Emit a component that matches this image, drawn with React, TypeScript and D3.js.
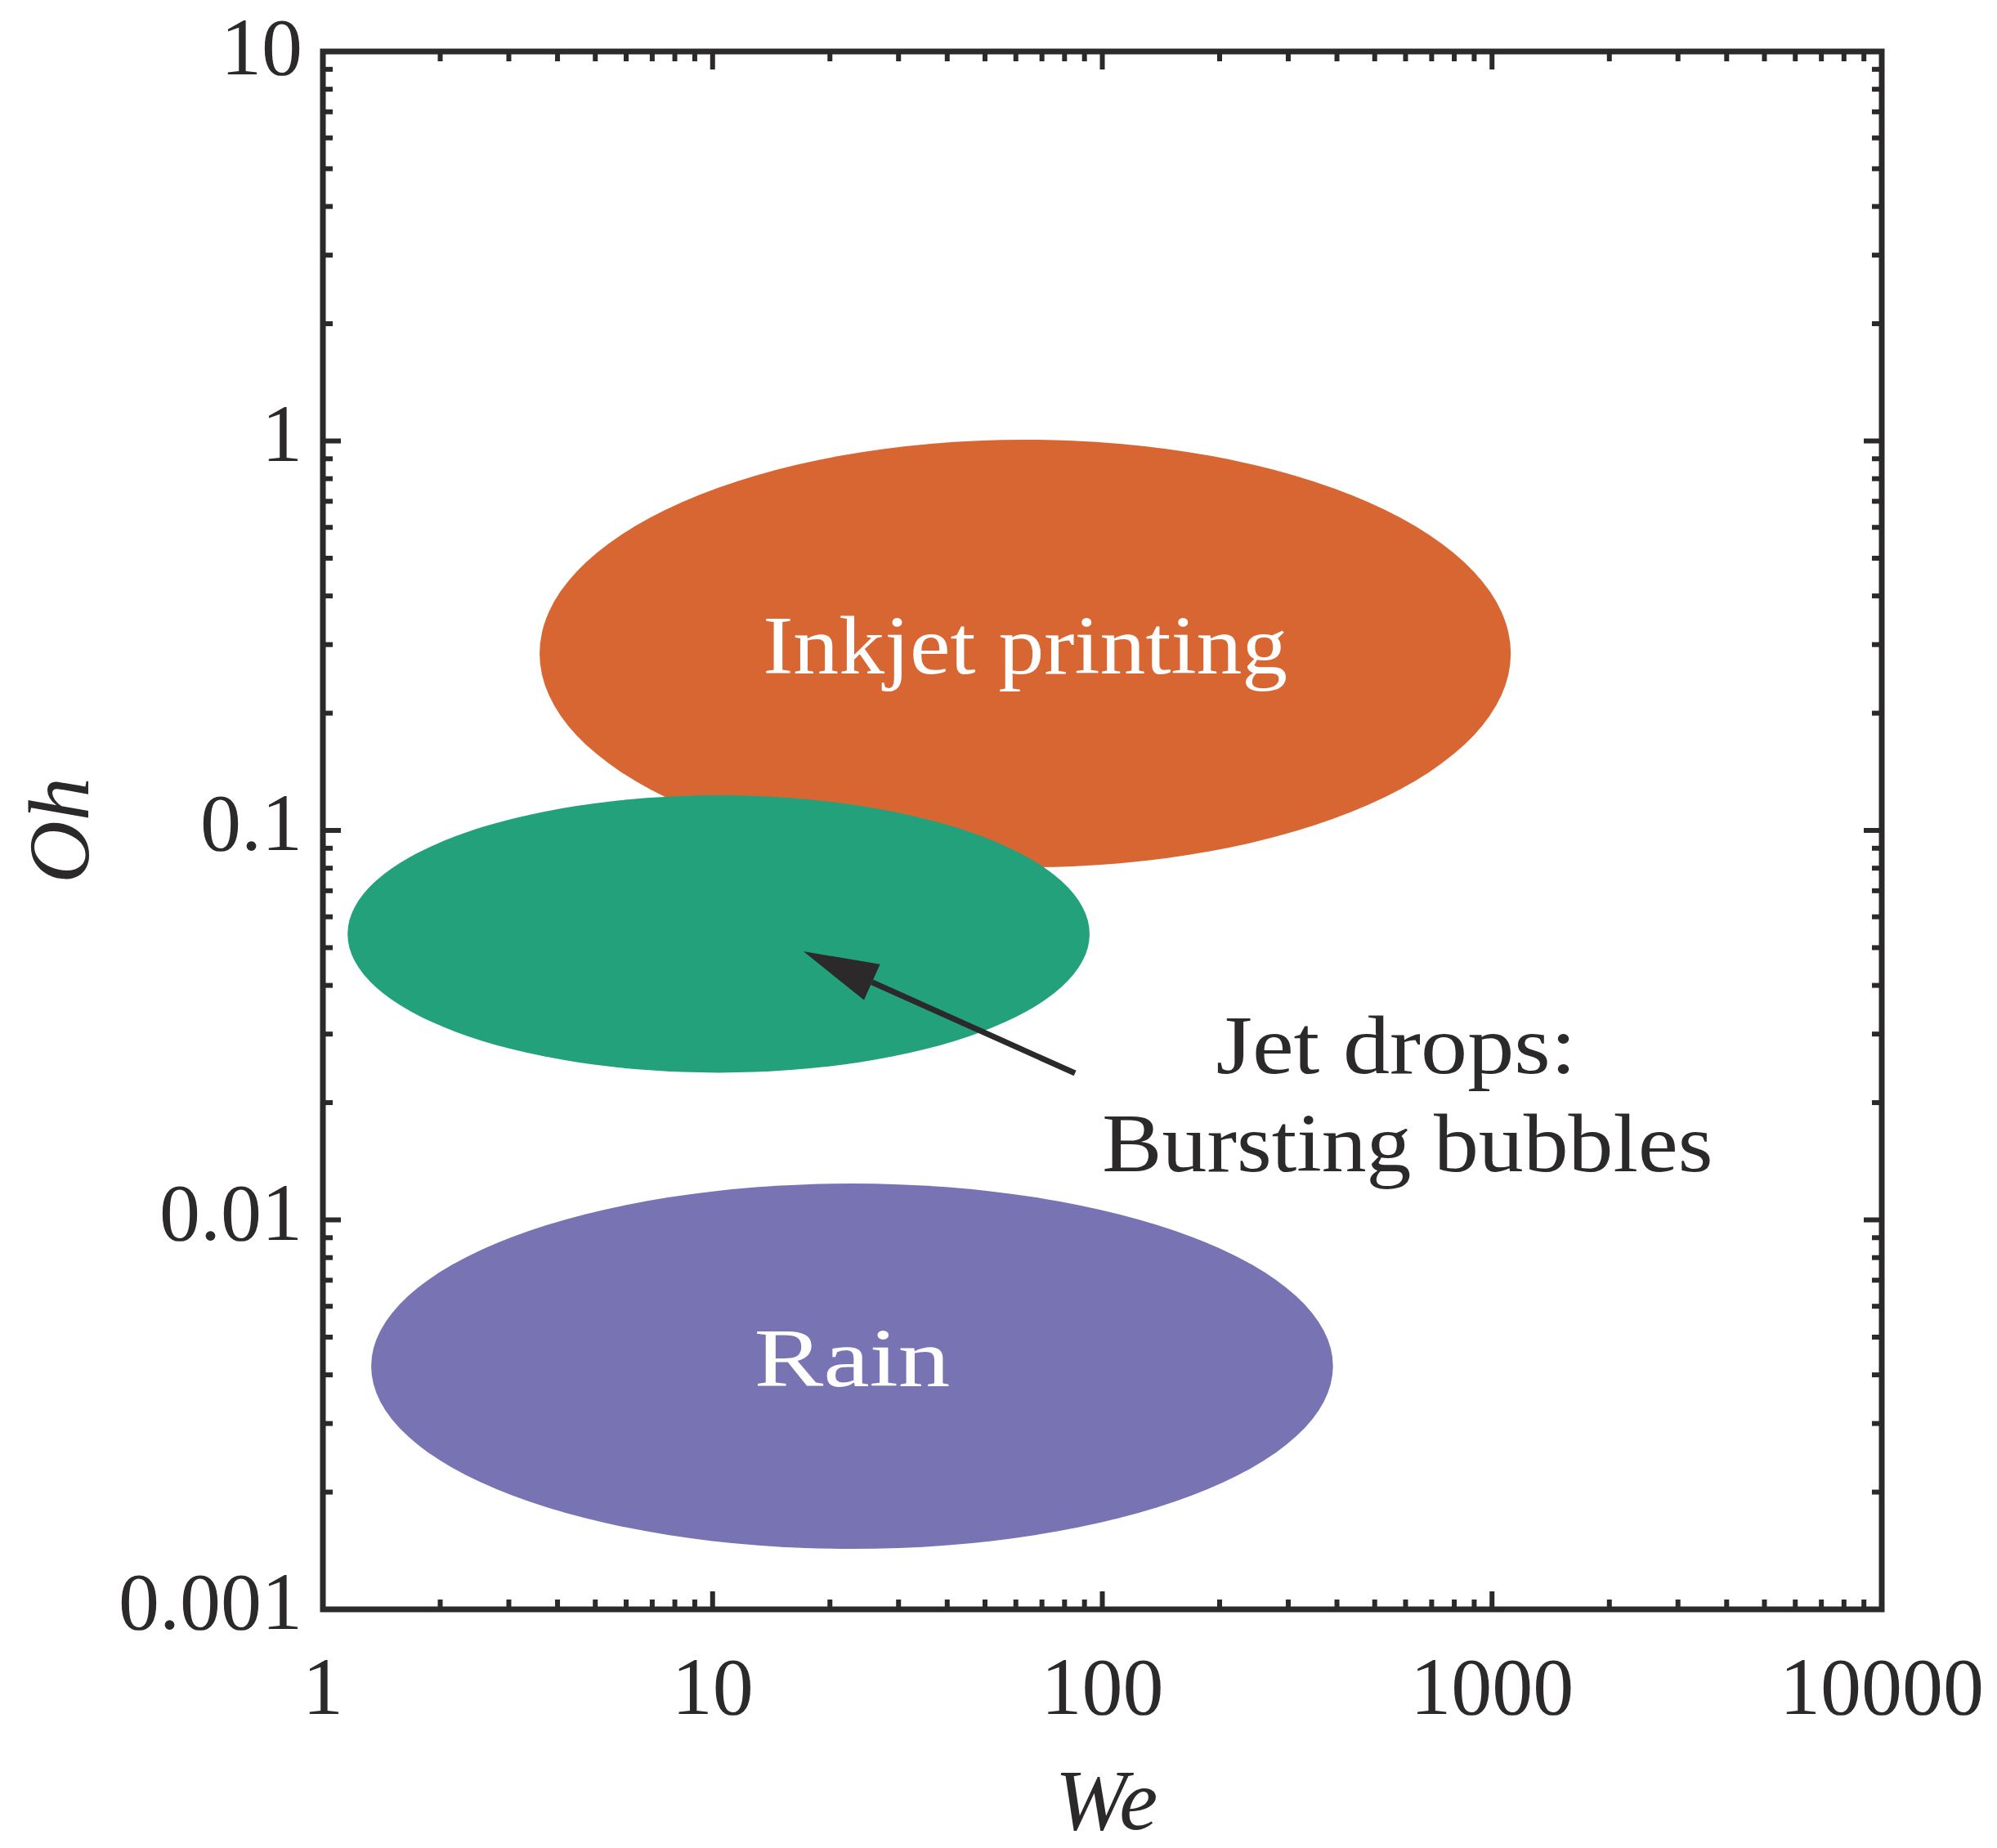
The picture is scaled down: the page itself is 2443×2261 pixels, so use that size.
import React from "react";
import * as d3 from "d3";

// ---- data ----
const regionNames = ["Inkjet printing", "Jet drops", "Rain"];
const regionCenterWe = [63.4, 10.36, 22.8];
const regionCenterOh = [0.2846, 0.0542, 0.00421];
const regionHalfSpanWe = [1.246, 0.952, 1.234]; // decades
const regionHalfSpanOh = [0.549, 0.356, 0.469]; // decades
const regionColors = ["#d86632", "#22a17b", "#7874b4"];
const regionInnerLabel = ["Inkjet printing", "", "Rain"];
const regionLabelWidths = [642, 0, 240];

const xTickValues = [1, 10, 100, 1000, 10000];
const xTickLabels = ["1", "10", "100", "1000", "10000"];
const yTickValues = [0.001, 0.01, 0.1, 1, 10];
const yTickLabels = ["0.001", "0.01", "0.1", "1", "10"];

const arrowTail = { we: 85.1, oh: 0.0238 };
const arrowTip = { we: 17.1, oh: 0.0489 };
const annotationLines = ["Jet drops:", "Bursting bubbles"];
const annotationWe = [567.5, 607];
const annotationOh = [0.0238, 0.0133];
const annotationWidths = [441, 747];

// ---- layout ----
const W = 2443;
const H = 2261;
const left = 395, right = 2302, top = 63, bottom = 1969;
const ink = "#2b292a";
const font = "'Liberation Serif', 'Times New Roman', serif";

export default function App() {
  const x = d3.scaleLog().domain([1, 10000]).range([left, right]);
  const y = d3.scaleLog().domain([0.001, 10]).range([bottom, top]);

  const xAll = x.ticks();
  const yAll = y.ticks();
  const isMajor = (v: number) => Math.abs(Math.log10(v) - Math.round(Math.log10(v))) < 1e-9;
  const majorLen = 22, minorLen = 12, tickW = 6;

  const tx = x(arrowTail.we), ty = y(arrowTail.oh);
  const hx = x(arrowTip.we), hy = y(arrowTip.oh);
  const ang = Math.atan2(ty - hy, tx - hx);
  const headLen = 92, headHalf = 24;
  const bx = hx + headLen * Math.cos(ang), by = hy + headLen * Math.sin(ang);
  const px = -Math.sin(ang), py = Math.cos(ang);
  const headPts = [
    [hx, hy],
    [bx + headHalf * px, by + headHalf * py],
    [bx - headHalf * px, by - headHalf * py],
  ];

  return (
    <svg width={W} height={H} style={{ position: "absolute", left: 0, top: 0, display: "block", background: "#fff" }}>
      <rect x={0} y={0} width={W} height={H} fill="#fff" />
      {regionNames.map((name, i) => {
        const cx = x(regionCenterWe[i]);
        const cy = y(regionCenterOh[i]);
        const rx = x(regionCenterWe[i] * Math.pow(10, regionHalfSpanWe[i])) - cx;
        const ry = cy - y(regionCenterOh[i] * Math.pow(10, regionHalfSpanOh[i]));
        return <ellipse key={name} cx={cx} cy={cy} rx={rx} ry={ry} fill={regionColors[i]} />;
      })}
      {regionNames.map((name, i) =>
        regionInnerLabel[i] ? (
          <text
            key={"l" + name}
            x={x(regionCenterWe[i])}
            y={y(regionCenterOh[i]) + 24}
            textAnchor="middle"
            fontFamily={font}
            fontSize={102}
            fill="#fff"
            textLength={regionLabelWidths[i]}
            lengthAdjust="spacingAndGlyphs"
          >
            {regionInnerLabel[i]}
          </text>
        ) : null
      )}
      {/* arrow */}
      <line x1={tx} y1={ty} x2={bx} y2={by} stroke={ink} strokeWidth={7} />
      <polygon points={headPts.map((p) => p.join(",")).join(" ")} fill={ink} />
      {annotationLines.map((t, i) => (
        <text
          key={t}
          x={x(annotationWe[i])}
          y={y(annotationOh[i])}
          textAnchor="middle"
          fontFamily={font}
          fontSize={102}
          fill={ink}
          textLength={annotationWidths[i]}
          lengthAdjust="spacingAndGlyphs"
        >
          {t}
        </text>
      ))}
      {/* ticks */}
      {xAll.map((v, i) => {
        const L = isMajor(v) ? majorLen : minorLen;
        const xx = x(v);
        return (
          <g key={"xt" + i}>
            <line x1={xx} x2={xx} y1={bottom} y2={bottom - L} stroke={ink} strokeWidth={tickW} />
            <line x1={xx} x2={xx} y1={top} y2={top + L} stroke={ink} strokeWidth={tickW} />
          </g>
        );
      })}
      {yAll.map((v, i) => {
        const L = isMajor(v) ? majorLen : minorLen;
        const yy = y(v);
        return (
          <g key={"yt" + i}>
            <line x1={left} x2={left + L} y1={yy} y2={yy} stroke={ink} strokeWidth={tickW} />
            <line x1={right} x2={right - L} y1={yy} y2={yy} stroke={ink} strokeWidth={tickW} />
          </g>
        );
      })}
      <rect x={left} y={top} width={right - left} height={bottom - top} fill="none" stroke={ink} strokeWidth={7} />
      {/* tick labels */}
      {xTickValues.map((v, i) => (
        <text key={"xl" + i} x={x(v)} y={2097} textAnchor="middle" fontFamily={font} fontSize={100} fill={ink}>
          {xTickLabels[i]}
        </text>
      ))}
      {yTickValues.map((v, i) => (
        <text key={"yl" + i} x={370} y={Math.max(y(v) + 24, 91)} textAnchor="end" fontFamily={font} fontSize={100} fill={ink}>
          {yTickLabels[i]}
        </text>
      ))}
      {/* axis titles */}
      <text x={(left + right) / 2 + 5} y={2238} textAnchor="middle" fontFamily={font} fontStyle="italic" fontSize={106} fill={ink}>
        We
      </text>
      <text
        transform={`translate(108, ${(top + bottom) / 2}) rotate(-90)`}
        textAnchor="middle"
        fontFamily={font}
        fontStyle="italic"
        fontSize={106}
        fill={ink}
      >
        Oh
      </text>
    </svg>
  );
}
